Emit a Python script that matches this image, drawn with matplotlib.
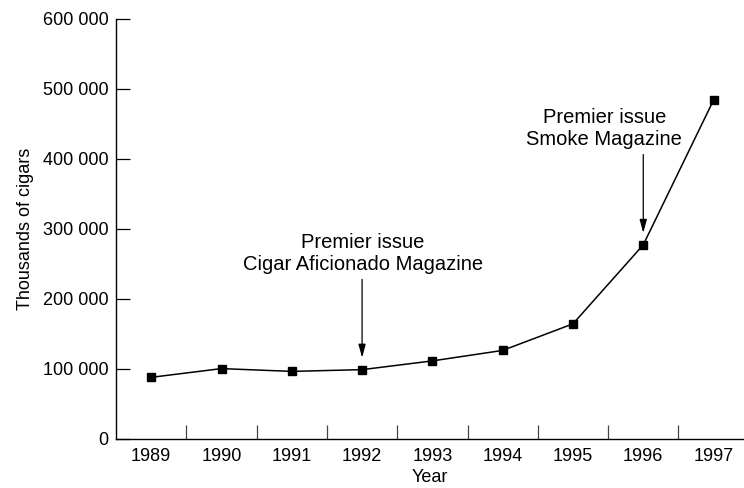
import matplotlib
matplotlib.use('Agg')
import matplotlib.pyplot as plt
from matplotlib.ticker import FuncFormatter, FixedLocator

plt.rcParams['font.family'] = ['Liberation Sans', 'DejaVu Sans']

years = ['1989', '1990', '1991', '1992', '1993', '1994', '1995', '1996', '1997']
cigars = [87500, 100000, 96000, 98500, 111000, 126000, 164000, 277000, 484000]
y_ticks = [0, 100000, 200000, 300000, 400000, 500000, 600000]

# which year each note points at, and its text
note_idx = [3, 7]
note_txt = ['Premier issue\nCigar Aficionado Magazine', 'Premier issue\nSmoke Magazine']
note_dx = [0.5, -28]   # text shift in points (smoke text sits left of its arrow)

fig = plt.figure(figsize=(7.44, 4.88), dpi=100)
ax = fig.add_axes([0.156, 0.1014, 0.844, 0.8597])

x = list(range(len(years)))
ax.plot(x, cigars, color='black', lw=1.1, marker='s', markersize=6.2,
        markerfacecolor='black', markeredgecolor='black')

ax.set_xlim(-0.5, -0.5 + (744 - 116) / 70.3)
ax.set_ylim(0, 600000)

ax.set_xticks(x)
ax.set_xticklabels(years)
ax.xaxis.set_minor_locator(FixedLocator([i + 0.5 for i in x[:-1]]))
ax.tick_params(axis='x', which='major', length=0, pad=6.5, labelsize=13)
ax.tick_params(axis='x', which='minor', direction='in', length=10.3, width=0.9,
               color='#444444')

ax.set_yticks(y_ticks)
ax.yaxis.set_major_formatter(FuncFormatter(lambda v, p: f'{int(v):,}'.replace(',', ' ')))
ax.tick_params(axis='y', direction='in', length=9.8, width=0.9, pad=5.5, labelsize=13)

for s in ['top', 'right']:
    ax.spines[s].set_visible(False)
for s in ['left', 'bottom']:
    ax.spines[s].set_linewidth(1.0)

ax.set_xlabel('Year', fontsize=13, labelpad=3)
ax.set_ylabel('Thousands of cigars', fontsize=13, labelpad=6)

for i, txt, dx in zip(note_idx, note_txt, note_dx):
    ax.annotate(txt, xy=(i, cigars[i]), xytext=(dx, 83.5), textcoords='offset points',
                ha='center', va='center', fontsize=14.5, linespacing=1.2)
    ax.annotate('', xy=(i, cigars[i]), xytext=(0, 65), textcoords='offset points',
                arrowprops=dict(arrowstyle='-|>,head_length=0.55,head_width=0.15',
                                mutation_scale=14.5, color='black', lw=0.9,
                                shrinkA=0, shrinkB=8.6))

fig.savefig('out.png', dpi=100)
